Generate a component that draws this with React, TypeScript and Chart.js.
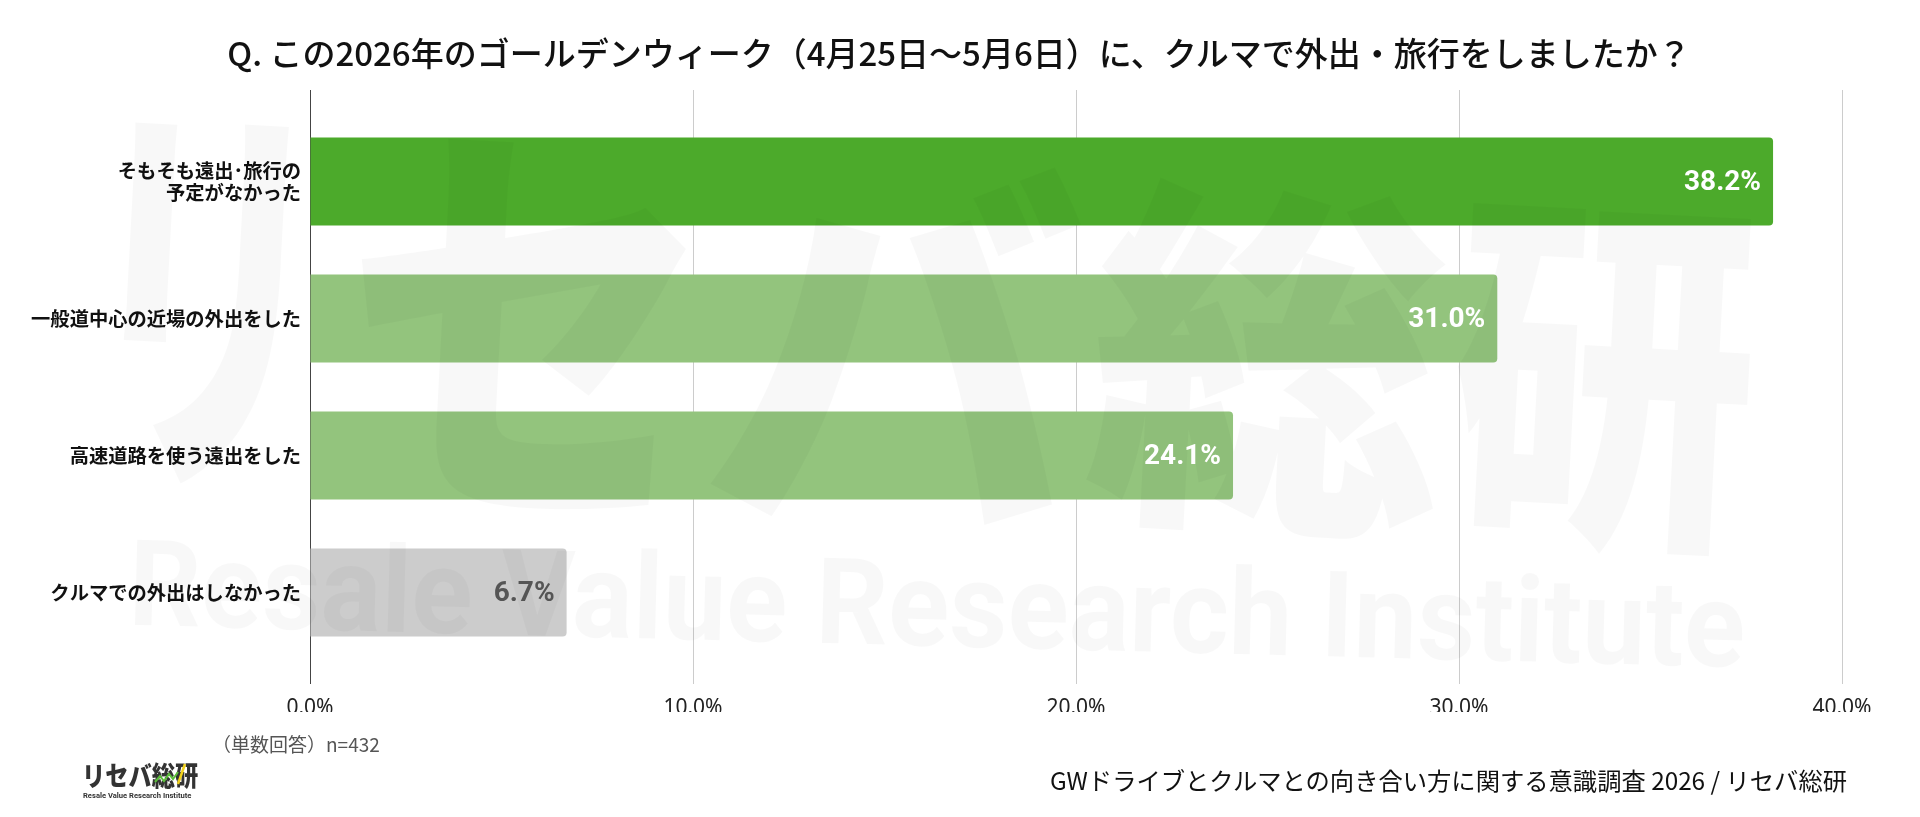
import React, { useEffect, useRef } from "react";
import { Chart, registerables } from "chart.js";

Chart.register(...registerables);

const categories: (string | string[])[] = [
  ["そもそも遠出･旅行の", "予定がなかった"],
  "一般道中心の近場の外出をした",
  "高速道路を使う遠出をした",
  "クルマでの外出はしなかった",
];
const values = [38.2, 31.0, 24.1, 6.7];
const barColors = ["#4caa2b", "#93c47d", "#93c47d", "#cccccc"];
const valueLabelColors = ["#ffffff", "#ffffff", "#ffffff", "#555555"];
const xMin = 0;
const xMax = 40;
const xStep = 10;
const titleText =
  "Q. この2026年のゴールデンウィーク（4月25日〜5月6日）に、クルマで外出・旅行をしましたか？";
const noteText = "（単数回答）n=432";
const sourceText = "GWドライブとクルマとの向き合い方に関する意識調査 2026 / リセバ総研";
const watermarkJa = "リセバ総研";
const watermarkEn = "Resale Value Research Institute";

const JA = '"Noto Sans CJK JP", "Noto Sans", sans-serif';

// watermark glyph boxes: [left, top, right, bottom] (decoration only)
const watermarkBoxes = [
  [124, 118, 282, 490],
  [355, 137, 686, 512],
  [716, 158, 1078, 527],
  [1090, 182, 1445, 540],
  [1457, 210, 1751, 556],
];

const gridColor = (ctx: any) =>
  ctx.tick && ctx.tick.value === 0 ? "#444444" : "#cccccc";

const watermarkPlugin = {
  id: "watermark",
  afterDatasetsDraw(chart: any) {
    const ctx = chart.ctx as CanvasRenderingContext2D;
    ctx.save();
    ctx.fillStyle = "rgba(0,0,0,0.027)";
    ctx.font = `900 400px ${JA}`;
    ctx.textAlign = "left";
    ctx.textBaseline = "alphabetic";
    Array.from(watermarkJa).forEach((ch, i) => {
      const [l, t, r, b] = watermarkBoxes[i];
      const m = ctx.measureText(ch);
      const inkW = m.actualBoundingBoxLeft + m.actualBoundingBoxRight;
      const inkH = m.actualBoundingBoxAscent + m.actualBoundingBoxDescent;
      const sx = (r - l) / inkW;
      const sy = (b - t) / inkH;
      const inkCx = (m.actualBoundingBoxRight - m.actualBoundingBoxLeft) / 2;
      const inkCy = (m.actualBoundingBoxDescent - m.actualBoundingBoxAscent) / 2;
      ctx.save();
      ctx.translate((l + r) / 2, (t + b) / 2);
      ctx.rotate((3 * Math.PI) / 180);
      ctx.scale(sx, sy);
      ctx.fillText(ch, -inkCx, -inkCy);
      ctx.restore();
    });
    // english line
    ctx.save();
    ctx.translate(936, 646);
    ctx.rotate((1.5 * Math.PI) / 180);
    ctx.font = `bold 120px Roboto, "Noto Sans", sans-serif`;
    const we = ctx.measureText(watermarkEn).width;
    ctx.scale(1617 / we, 1);
    ctx.textAlign = "center";
    ctx.textBaseline = "alphabetic";
    ctx.fillText(watermarkEn, 0, 0);
    ctx.restore();
    ctx.restore();
  },
};

const valueLabelPlugin = {
  id: "valueLabels",
  afterDatasetsDraw(chart: any) {
    const ctx = chart.ctx as CanvasRenderingContext2D;
    const meta = chart.getDatasetMeta(0);
    ctx.save();
    ctx.font = `bold 28px Roboto, "Noto Sans", sans-serif`;
    ctx.textAlign = "right";
    ctx.textBaseline = "middle";
    meta.data.forEach((bar: any, i: number) => {
      ctx.fillStyle = valueLabelColors[i];
      ctx.fillText(values[i].toFixed(1) + "%", bar.x - 12, bar.y + 1);
    });
    ctx.restore();
  },
};

export default function App() {
  const canvasRef = useRef<HTMLCanvasElement | null>(null);

  useEffect(() => {
    if (!canvasRef.current) return;
    const chart = new Chart(canvasRef.current, {
      type: "bar",
      data: {
        labels: categories as any,
        datasets: [
          {
            data: values,
            backgroundColor: barColors,
            borderRadius: 4,
            borderSkipped: "start",
            barPercentage: 0.643,
            categoryPercentage: 1,
          },
        ],
      },
      options: {
        indexAxis: "y",
        animation: false,
        responsive: false,
        layout: { padding: { top: 90, right: 78, bottom: 105, left: 0 } },
        plugins: {
          legend: { display: false },
          tooltip: { enabled: false },
          title: { display: false },
        },
        scales: {
          x: {
            type: "linear",
            position: "bottom",
            min: xMin,
            max: xMax,
            ticks: {
              stepSize: xStep,
              callback: (v: any) => Number(v).toFixed(1) + "%",
              font: { family: '"Noto Sans", sans-serif', size: 21 },
              color: "#222222",
              padding: 11,
            },
            grid: {
              color: gridColor,
              lineWidth: 1,
              tickLength: 23,
              drawTicks: true,
            },
            border: { display: false },
            afterFit: (s: any) => {
              s.height = 51;
            },
          },
          xTop: {
            type: "linear",
            position: "top",
            min: xMin,
            max: xMax,
            z: 1,
            ticks: { stepSize: xStep, display: false },
            grid: {
              drawOnChartArea: true,
              color: (ctx: any) =>
                ctx.tick && ctx.tick.value === 0 ? "#444444" : "rgba(0,0,0,0)",
              tickColor: gridColor,
              lineWidth: 1,
              tickLength: 23,
              drawTicks: true,
            },
            border: { display: false },
            afterFit: (s: any) => {
              s.height = 23;
            },
          },
          y: {
            ticks: {
              font: { family: JA, size: 19.3, weight: "bold", lineHeight: 1.17 },
              color: "#111111",
              padding: 9,
            },
            grid: { display: false, drawTicks: false },
            border: { display: false },
            afterFit: (s: any) => {
              s.width = 310;
            },
          },
        } as any,
      },
      plugins: [watermarkPlugin, valueLabelPlugin],
    });
    return () => chart.destroy();
  }, []);

  return (
    <div
      style={{
        position: "absolute",
        left: 0,
        top: 0,
        width: 1920,
        height: 817,
        background: "#ffffff",
        overflow: "hidden",
        fontFamily: JA,
      }}
    >
      <canvas
        ref={canvasRef}
        width={1920}
        height={817}
        style={{ position: "absolute", left: 0, top: 0, width: 1920, height: 817 }}
      />
      <div
        style={{
          position: "absolute",
          left: 0,
          top: 30,
          width: 1918,
          textAlign: "center",
          fontSize: 33,
          fontWeight: 500,
          lineHeight: "44px",
          color: "#111111",
          whiteSpace: "nowrap",
        }}
      >
        {titleText}
      </div>
      <div
        style={{
          position: "absolute",
          left: 212,
          top: 731,
          fontSize: 19,
          lineHeight: "26px",
          color: "#555555",
          whiteSpace: "nowrap",
        }}
      >
        {noteText}
      </div>
      <div
        style={{
          position: "absolute",
          right: 73,
          top: 764,
          fontSize: 24.3,
          lineHeight: "32px",
          color: "#111111",
          whiteSpace: "nowrap",
        }}
      >
        {sourceText}
      </div>
      <div style={{ position: "absolute", left: 82, top: 758, width: 120, height: 45 }}>
        <div
          style={{
            fontSize: 27,
            fontWeight: 900,
            lineHeight: "34px",
            color: "#333333",
            transform: "scaleX(0.86)",
            transformOrigin: "left center",
            whiteSpace: "nowrap",
          }}
        >
          {watermarkJa}
        </div>
        <svg
          width={40}
          height={30}
          style={{ position: "absolute", left: 70, top: 2 }}
          viewBox="0 0 40 30"
        >
          <polyline
            points="3,22 8,16 12,21 17,14 21,19 26,12"
            fill="none"
            stroke="#5cbf3a"
            strokeWidth={2}
          />
          <line x1={26} y1={24} x2={33} y2={4} stroke="#f2d21b" strokeWidth={2.5} />
        </svg>
        <div
          style={{
            position: "absolute",
            left: 1,
            top: 33,
            fontFamily: 'Roboto, "Noto Sans", sans-serif',
            fontSize: 8,
            fontWeight: 700,
            lineHeight: "10px",
            color: "#333333",
            whiteSpace: "nowrap",
            transform: "scaleX(0.95)",
            transformOrigin: "left center",
          }}
        >
          {watermarkEn}
        </div>
      </div>
    </div>
  );
}
